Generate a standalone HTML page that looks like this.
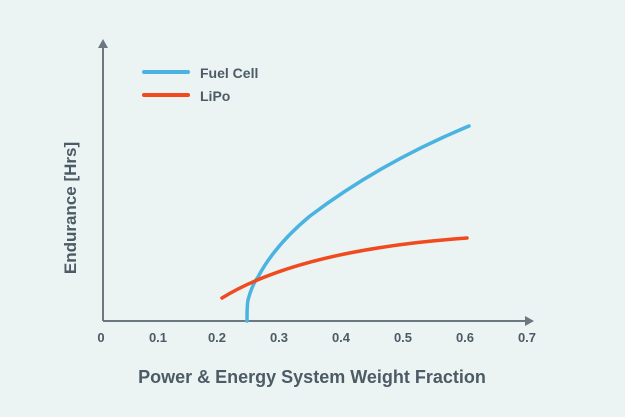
<!DOCTYPE html>
<html><head><style>
html,body{margin:0;padding:0;background:#ebf3f3;}
</style></head><body>
<svg width="625" height="417" xmlns="http://www.w3.org/2000/svg" style="display:block">
<rect width="625" height="417" fill="#ebf3f3"/>
<g stroke="#6b7882" stroke-width="2" fill="none">
<line x1="103" y1="321" x2="103" y2="46"/>
<line x1="103" y1="321" x2="527" y2="321"/>
</g>
<polygon points="103,39 98,48 108,48" fill="#6b7882"/>
<polygon points="534,321 525,316 525,326" fill="#6b7882"/>
<g font-family="Liberation Sans, sans-serif" font-weight="bold" fill="#4d5b66" font-size="13" text-anchor="middle">
<text x="101" y="342">0</text>
<text x="158" y="342">0.1</text>
<text x="217" y="342">0.2</text>
<text x="279" y="342">0.3</text>
<text x="341" y="342">0.4</text>
<text x="403" y="342">0.5</text>
<text x="465" y="342">0.6</text>
<text x="527" y="342">0.7</text>
<text x="312" y="383" font-size="18">Power &amp; Energy System Weight Fraction</text>
<text transform="translate(76,208) rotate(-90)" font-size="17">Endurance [Hrs]</text>
<text x="200" y="78" font-size="14" text-anchor="start">Fuel Cell</text>
<text x="200" y="101" font-size="14" text-anchor="start">LiPo</text>
</g>
<line x1="144" y1="72" x2="188" y2="72" stroke="#4ab3e2" stroke-width="4" stroke-linecap="round"/>
<line x1="144" y1="95" x2="188" y2="95" stroke="#f04a1e" stroke-width="4" stroke-linecap="round"/>
<path fill="none" stroke="#4ab3e2" stroke-width="3.5" stroke-linecap="round" d="M247,321 Q247,305 248,300 Q252,285 258,277 Q275,245 310,216 Q380,163 469,126"/>
<path fill="none" stroke="#f04a1e" stroke-width="3.5" stroke-linecap="round" d="M222,298 Q300,250 467,238"/>
</svg>
</body></html>
